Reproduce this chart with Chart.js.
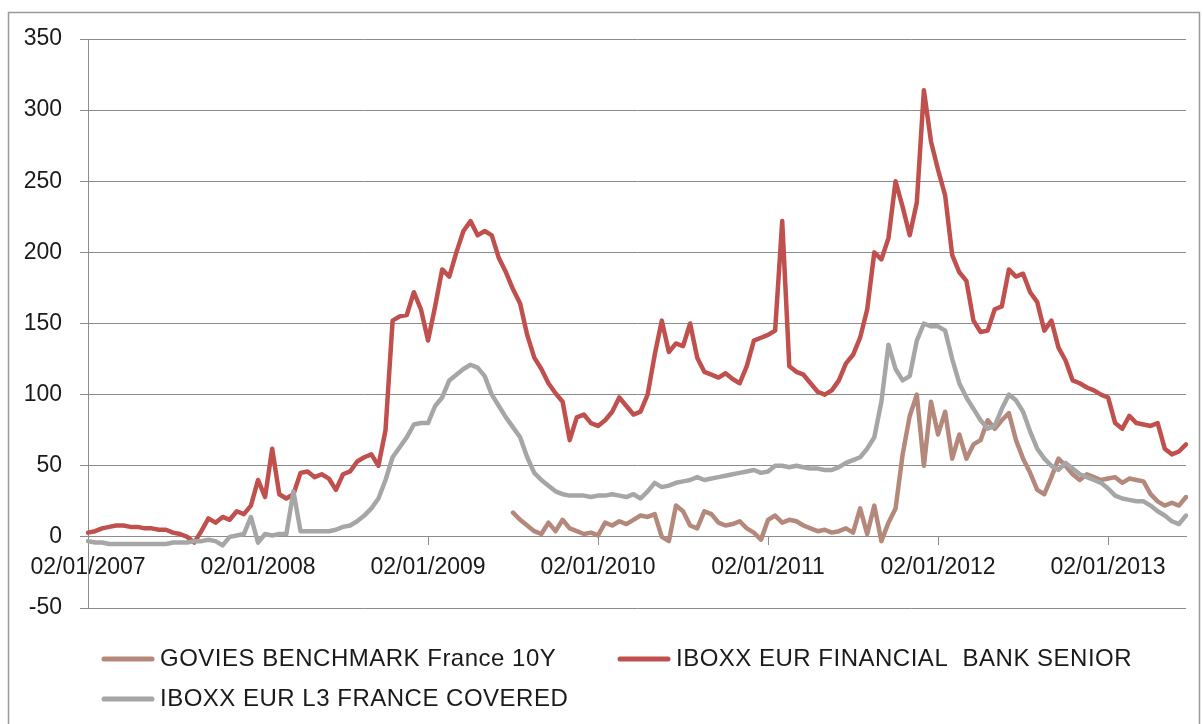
<!DOCTYPE html>
<html>
<head>
<meta charset="utf-8">
<script src="https://cdn.jsdelivr.net/npm/chart.js@4.4.0/dist/chart.umd.min.js"></script>
<style>
  html, body { margin: 0; padding: 0; background: #fff; }
</style>
</head>
<body>
<canvas id="spreadChart" width="1203" height="724"></canvas>
<script>
// half-monthly dates, 02/01/2007 .. 16/06/2013
var dates = [];
for (var yr = 2007; yr <= 2013; yr++) {
  for (var m = 1; m <= 12; m++) {
    if (yr == 2013 && m > 6) break;
    var mm = (m < 10 ? "0" : "") + m;
    dates.push("02/" + mm + "/" + yr);
    dates.push("16/" + mm + "/" + yr);
  }
}

var seriesNames = ["GOVIES BENCHMARK France 10Y", "IBOXX EUR FINANCIAL  BANK SENIOR", "IBOXX EUR L3 FRANCE COVERED"];
var seriesColors = ["#b4887a", "#c0504d", "#a6a6a6"];

var govies = [
  null,null,null,null,null,null,null,null,null,null,null,null,null,null,null,null,null,null,null,null,null,null,null,null,
  null,null,null,null,null,null,null,null,null,null,null,null,null,null,null,null,null,null,null,null,null,null,null,null,
  null,null,null,null,null,null,null,null,null,null,null,null,17,12,8,4,2,10,4,12,6,4,2,3,
  1,10,8,11,9,12,15,14,16,0,-3,22,18,8,6,18,16,10,8,9,11,6,3,-2,
  12,15,10,12,11,8,6,4,5,3,4,6,3,20,2,22,-3,10,20,58,85,100,50,95,
  72,88,55,72,55,65,68,82,76,82,87,68,55,45,33,30,42,55,50,44,40,44,42,40,
  41,42,38,41,40,39,30,25,22,24,22,28
];

var bankSenior = [
  3,4,6,7,8,8,7,7,6,6,5,5,3,2,0,-4,4,13,10,14,12,18,16,22,
  40,28,62,30,27,30,45,46,42,44,41,33,44,46,53,56,58,50,75,152,155,156,172,160,
  138,162,188,183,200,215,222,212,215,212,196,186,174,164,142,126,118,108,101,95,68,84,86,80,
  78,82,88,98,92,86,88,100,128,152,130,136,134,150,126,116,114,112,115,111,108,120,138,140,
  142,145,222,120,116,114,108,102,100,103,110,122,128,140,160,200,195,210,250,232,212,235,314,278,
  258,240,198,186,180,152,144,145,160,162,188,183,185,172,165,145,152,133,124,110,108,105,103,100,
  98,80,76,85,80,79,78,80,62,58,60,65
];

var covered = [
  -3,-4,-4,-5,-5,-5,-5,-5,-5,-5,-5,-5,-4,-4,-4,-3,-3,-2,-3,-6,0,1,2,14,
  -4,2,1,2,2,32,4,4,4,4,4,5,7,8,11,15,20,27,40,56,63,70,79,80,
  80,92,98,110,114,118,121,119,113,100,92,84,77,70,56,45,40,36,32,30,29,29,29,28,
  29,29,30,29,28,30,27,32,38,35,36,38,39,40,42,40,41,42,43,44,45,46,47,45,
  46,50,50,49,50,49,48,48,47,47,49,52,54,56,62,70,95,135,118,110,113,138,150,148,
  148,145,125,108,98,90,82,76,78,90,100,96,88,74,62,55,50,47,52,48,44,42,40,38,
  34,29,27,26,25,25,22,18,15,11,9,15
];

var yMin = -50, yMax = 350, yStep = 50;

var gridGray = "#8c8c8c";
var textCol = "#1a1a1a";
Chart.defaults.font.family = "'Liberation Sans', Arial, sans-serif";
Chart.defaults.font.size = 23;
Chart.defaults.color = textCol;

function isYearStart(i) {
  return dates[i] && dates[i].indexOf("02/01/") == 0;
}

// outer frame
var framePlugin = {
  id: "frame",
  beforeDraw: function(chart) {
    var ctx = chart.ctx;
    ctx.save();
    ctx.strokeStyle = "#9a9a9a";
    ctx.lineWidth = 1.5;
    ctx.strokeRect(8.5, 12.5, 1191, 740);
    ctx.restore();
  }
};

// legend laid out like the spreadsheet one (two columns)
var legendSpots = [[104, 659], [620, 659], [104, 699]];
var legendPlugin = {
  id: "sheetLegend",
  afterDraw: function(chart) {
    var ctx = chart.ctx;
    ctx.save();
    ctx.font = "24px 'Liberation Sans', Arial, sans-serif";
    ctx.letterSpacing = "0.5px";
    ctx.textBaseline = "middle";
    ctx.textAlign = "left";
    seriesNames.forEach(function(name, i) {
      var p = legendSpots[i];
      ctx.strokeStyle = seriesColors[i];
      ctx.lineWidth = 5;
      ctx.lineCap = "round";
      ctx.beginPath();
      ctx.moveTo(p[0], p[1]);
      ctx.lineTo(p[0] + 48, p[1]);
      ctx.stroke();
      ctx.fillStyle = textCol;
      ctx.fillText(name, p[0] + 56, p[1]);
    });
    ctx.restore();
  }
};

var ctxL = document.getElementById("spreadChart").getContext("2d");
var spreadChart = new Chart(ctxL, {
  type: "line",
  data: {
    labels: dates,
    datasets: [
      { label: seriesNames[0], data: govies, borderColor: seriesColors[0], order: 3 },
      { label: seriesNames[1], data: bankSenior, borderColor: seriesColors[1], order: 2 },
      { label: seriesNames[2], data: covered, borderColor: seriesColors[2], order: 1 }
    ]
  },
  options: {
    responsive: false,
    animation: false,
    devicePixelRatio: 1,
    layout: { padding: { left: 0, top: 39, right: 17, bottom: 116 } },
    elements: {
      point: { radius: 0, hoverRadius: 0 },
      line: { borderWidth: 4.5, tension: 0, fill: false, borderJoinStyle: "round", borderCapStyle: "round" }
    },
    plugins: {
      legend: { display: false },
      tooltip: { enabled: false },
      title: { display: false }
    },
    scales: {
      x: {
        position: { y: 0 },
        offset: false,
        grid: {
          drawOnChartArea: false,
          drawTicks: true,
          tickLength: 8,
          color: function(c) { return isYearStart(c.index) ? gridGray : "rgba(0,0,0,0)"; }
        },
        border: { display: true, color: gridGray, width: 1 },
        ticks: {
          autoSkip: false,
          maxRotation: 0,
          minRotation: 0,
          padding: 9,
          callback: function(val, i) { return isYearStart(i) ? dates[i] : ""; }
        }
      },
      y: {
        min: yMin,
        max: yMax,
        afterFit: function(s) { s.width = 88; },
        grid: { color: gridGray, lineWidth: 1, drawTicks: true, tickLength: 8 },
        border: { display: true, color: gridGray, width: 1 },
        ticks: { stepSize: yStep, padding: 18 }
      }
    }
  },
  plugins: [framePlugin, legendPlugin]
});
</script>
</body>
</html>
